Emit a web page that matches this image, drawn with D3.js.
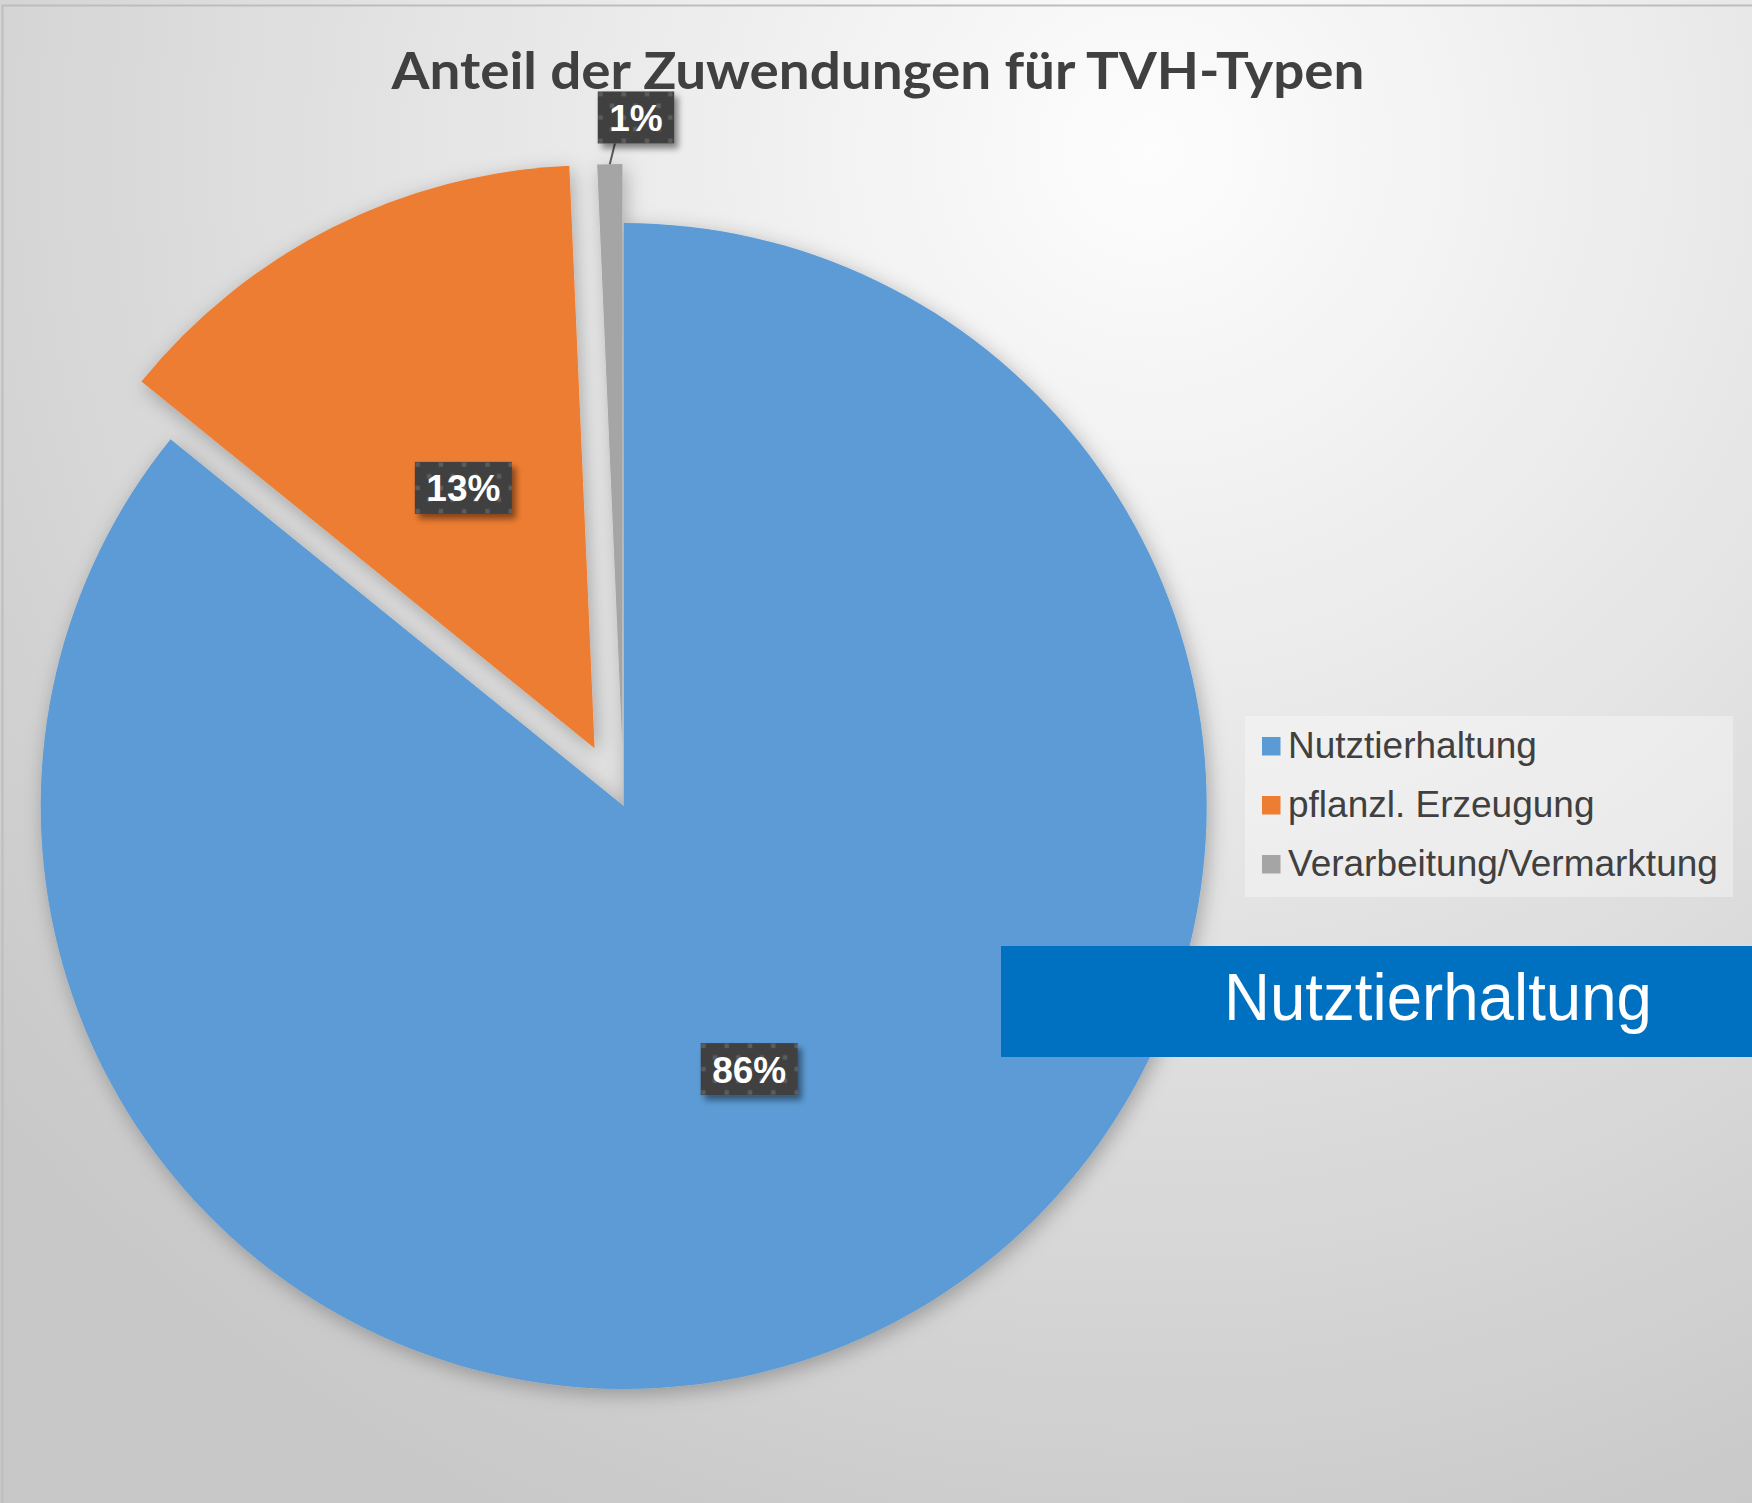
<!DOCTYPE html>
<html><head><meta charset="utf-8">
<script src="https://cdn.jsdelivr.net/npm/d3@7"></script>
<style>html,body{margin:0;padding:0;background:#fff;} svg{display:block}</style>
</head><body>
<script>
// ---- data ----
const categories = ["Nutztierhaltung", "pflanzl. Erzeugung", "Verarbeitung/Vermarktung"];
const shares = [85.83, 13.48, 0.69];
const labelTexts = ["86%", "13%", "1%"];
const titleText = "Anteil der Zuwendungen für TVH-Typen";
const calloutText = "Nutztierhaltung";

// ---- style / layout ----
const W = 1752, H = 1503;
const colors = ["#5b9bd5", "#ed7d31", "#a5a5a5"];
const explode = [0, 64.7, 59];
const cx = 623.7, cy = 806, R = 583;

const svg = d3.select("body").append("svg").attr("width", W).attr("height", H);
const defs = svg.append("defs");

const bg = defs.append("radialGradient").attr("id", "bg")
  .attr("gradientUnits", "userSpaceOnUse").attr("cx", 1150).attr("cy", 150).attr("r", 1500);
bg.append("stop").attr("offset", 0).attr("stop-color", "#fdfdfd");
bg.append("stop").attr("offset", 0.45).attr("stop-color", "#e6e6e6");
bg.append("stop").attr("offset", 1).attr("stop-color", "#c8c8c8");

const sh = defs.append("filter").attr("id", "sh").attr("x", "-20%").attr("y", "-20%").attr("width", "140%").attr("height", "140%");
sh.append("feDropShadow").attr("dx", 3).attr("dy", 5).attr("stdDeviation", 10)
  .attr("flood-color", "#000").attr("flood-opacity", 0.28);

const lsh = defs.append("filter").attr("id", "lsh").attr("x", "-30%").attr("y", "-30%").attr("width", "160%").attr("height", "160%");
lsh.append("feDropShadow").attr("dx", 4).attr("dy", 5).attr("stdDeviation", 3)
  .attr("flood-color", "#000").attr("flood-opacity", 0.45);

const pat = defs.append("pattern").attr("id", "dots").attr("patternUnits", "userSpaceOnUse")
  .attr("width", 23.3).attr("height", 23.3);
pat.append("rect").attr("width", 23.3).attr("height", 23.3).attr("fill", "#404040");
pat.append("rect").attr("x", 0.5).attr("y", 0.5).attr("width", 4.5).attr("height", 4.5).attr("fill", "#5c5c5c");
pat.append("rect").attr("x", 12.15).attr("y", 12.15).attr("width", 4.5).attr("height", 4.5).attr("fill", "#5c5c5c");

// background + border
svg.append("rect").attr("width", W).attr("height", H).attr("fill", "url(#bg)");
svg.append("rect").attr("x", 2.5).attr("y", 5.5).attr("width", W + 10).attr("height", H + 10)
  .attr("fill", "none").attr("stroke", "#bdbdbd").attr("stroke-width", 2);

// title
svg.append("text").attr("x", 878).attr("y", 88.5).attr("text-anchor", "middle")
  .attr("font-family", "Lato, 'Open Sans', sans-serif").attr("font-weight", "bold")
  .attr("font-size", 52).attr("fill", "#404040")
  .attr("textLength", 973).attr("lengthAdjust", "spacingAndGlyphs")
  .text(titleText);

// pie
const pie = d3.pie().sort(null).value(d => d)(shares);
const arc = d3.arc().innerRadius(0).outerRadius(R);
const mid = d => (d.startAngle + d.endAngle) / 2;
const off = (d, i) => {
  const m = mid(d), e = explode[i];
  return [Math.sin(m) * e, -Math.cos(m) * e];
};

const pg = svg.append("g").attr("transform", `translate(${cx},${cy})`);
const slices = pg.append("g").attr("filter", "url(#sh)");
slices.selectAll("path").data(pie).join("path")
  .attr("transform", (d, i) => { const o = off(d, i); return `translate(${o[0]},${o[1]})`; })
  .attr("d", arc).attr("fill", (d, i) => colors[i]);

// callout banner
svg.append("rect").attr("x", 1001).attr("y", 946).attr("width", W - 1001).attr("height", 111).attr("fill", "#0070c0");
svg.append("text").attr("x", 1224).attr("y", 1020)
  .attr("font-family", "'Liberation Sans', Arial, sans-serif").attr("font-size", 66).attr("fill", "#ffffff")
  .attr("textLength", 428).attr("lengthAdjust", "spacingAndGlyphs")
  .text(calloutText);

// legend
const lg = svg.append("g");
lg.append("rect").attr("x", 1245).attr("y", 716).attr("width", 488).attr("height", 181)
  .attr("fill", "#ffffff").attr("fill-opacity", 0.35);
const rowBase = [758, 817, 876];
categories.forEach((c, i) => {
  lg.append("rect").attr("x", 1262).attr("y", rowBase[i] - 21).attr("width", 18.5).attr("height", 18.5).attr("fill", colors[i]);
  lg.append("text").attr("x", 1288).attr("y", rowBase[i])
    .attr("font-family", "'Liberation Sans', Arial, sans-serif").attr("font-size", 37).attr("fill", "#404040")
    .text(c);
});

// data labels
const labelG = svg.append("g").attr("transform", `translate(${cx},${cy})`);
pie.forEach((d, i) => {
  const o = off(d, i);
  const outside = shares[i] < 5;
  let lx, ly;
  if (!outside) {
    const c = arc.centroid(d);
    lx = c[0] + o[0]; ly = c[1] + o[1];
  } else {
    const m = mid(d);
    const ax = Math.sin(m) * (R + explode[i]), ay = -Math.cos(m) * (R + explode[i]);
    labelG.append("line").attr("x1", ax).attr("y1", ay).attr("x2", ax + 5.2).attr("y2", ay - 21)
      .attr("stroke", "#595959").attr("stroke-width", 2);
    lx = ax + 26.2; ly = ay - 46.7;
  }
  const g = labelG.append("g");
  const t = g.append("text").attr("x", 0).attr("y", 0)
    .attr("font-family", "'Liberation Sans', Arial, sans-serif").attr("font-weight", "bold")
    .attr("font-size", 37).attr("fill", "#ffffff").attr("text-anchor", "middle")
    .text(labelTexts[i]);
  const tw = t.node().getComputedTextLength();
  const bw = tw + 23, bh = 52;
  const bx = lx - bw / 2, by = ly - bh / 2;
  g.attr("transform", `translate(${bx},${by})`);
  g.insert("rect", "text").attr("width", bw).attr("height", bh).attr("fill", "url(#dots)").attr("filter", "url(#lsh)");
  t.attr("x", bw / 2).attr("y", bh / 2 + 13.5);
});
</script>
</body></html>
